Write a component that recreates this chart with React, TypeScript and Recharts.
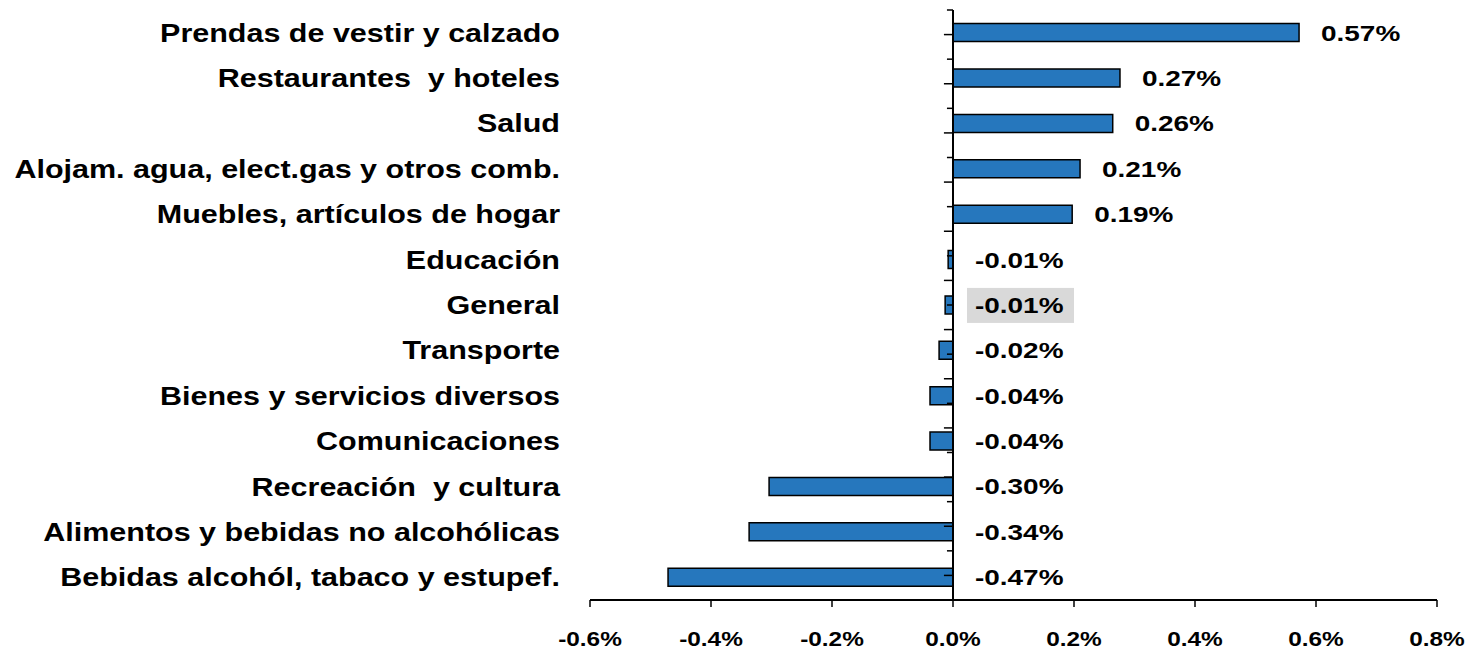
import React from 'react';
import { BarChart, Bar, XAxis, YAxis, ReferenceLine, LabelList } from 'recharts';

const categories = [
  'Prendas de vestir y calzado',
  'Restaurantes  y hoteles',
  'Salud',
  'Alojam. agua, elect.gas y otros comb.',
  'Muebles, artículos de hogar',
  'Educación',
  'General',
  'Transporte',
  'Bienes y servicios diversos',
  'Comunicaciones',
  'Recreación  y cultura',
  'Alimentos y bebidas no alcohólicas',
  'Bebidas alcohól, tabaco y estupef.',
];
const values = [0.572, 0.276, 0.264, 0.21, 0.197, -0.008, -0.013, -0.023, -0.038, -0.038, -0.304, -0.337, -0.471];
const valueLabels = ['0.57%', '0.27%', '0.26%', '0.21%', '0.19%', '-0.01%', '-0.01%', '-0.02%', '-0.04%', '-0.04%', '-0.30%', '-0.34%', '-0.47%'];
const xTicks = [-0.6, -0.4, -0.2, 0, 0.2, 0.4, 0.6, 0.8];
const highlighted = 'General';

const data = categories.map((name, i) => ({ name, value: values[i], label: valueLabels[i] }));
const boundaryPositions = Array.from({ length: categories.length + 1 }, (_, i) => i - 0.5);
const centerPositions = categories.map((_, i) => i);

const FONT = '"Liberation Sans", Arial, sans-serif';
const STRETCH = 1.22;

const CatTick = (props: any) => {
  const { x, y, payload } = props;
  return (
    <text
      transform={`translate(${x},${y + 9}) scale(${STRETCH},1)`}
      textAnchor="end"
      fontFamily={FONT}
      fontWeight="bold"
      fontSize={25}
      fill="#000"
      style={{ whiteSpace: 'pre' }}
    >
      {payload.value}
    </text>
  );
};

const XTick = (props: any) => {
  const { x, y, payload } = props;
  return (
    <text
      transform={`translate(${x},${y + 37}) scale(${STRETCH},1)`}
      textAnchor="middle"
      fontFamily={FONT}
      fontWeight="bold"
      fontSize={20}
      fill="#000"
    >
      {`${Number(payload.value).toFixed(1)}%`}
    </text>
  );
};

const ValueLabel = (props: any) => {
  const { x, y, width, height, index, value } = props;
  const right = Math.max(Number(x), Number(x) + Number(width));
  const lx = right + 22;
  const cy = Number(y) + Number(height) / 2;
  const isHi = categories[index] === highlighted;
  return (
    <g>
      {isHi && <rect x={lx - 8} y={cy - 17} width={107} height={35} fill="#d9d9d9" />}
      <text
        transform={`translate(${lx},${cy + 8}) scale(1.27,1)`}
        textAnchor="start"
        fontFamily={FONT}
        fontWeight="bold"
        fontSize={22}
        fill="#000"
      >
        {value}
      </text>
    </g>
  );
};

export default function App() {
  return (
    <BarChart
      width={1464}
      height={641}
      layout="vertical"
      data={data}
      margin={{ top: 2, right: 35, bottom: 0, left: 0 }}
      barCategoryGap="30%"
    >
      <XAxis
        type="number"
        domain={[-0.6, 0.8]}
        ticks={xTicks}
        axisLine={{ stroke: '#000', strokeWidth: 2 }}
        tickLine={{ stroke: '#000', strokeWidth: 1.5 }}
        tickSize={7}
        tickMargin={2}
        height={49}
        tick={<XTick />}
        interval={0}
      />
      <YAxis
        yAxisId="cat"
        type="category"
        dataKey="name"
        width={582}
        axisLine={false}
        tickLine={false}
        tickSize={0}
        tickMargin={30}
        tick={<CatTick />}
        interval={0}
      />
      <YAxis yAxisId="n" type="number" domain={[-0.5, 12.5]} reversed hide />
      <Bar
        yAxisId="cat"
        dataKey="value"
        fill="#2677BD"
        stroke="#000"
        strokeWidth={1.5}
        isAnimationActive={false}
      >
        <LabelList dataKey="label" content={<ValueLabel />} />
      </Bar>
      <ReferenceLine yAxisId="n" x={0} stroke="#000" strokeWidth={2} />
      {boundaryPositions.map((p) => (
        <ReferenceLine
          key={`b${p}`}
          yAxisId="n"
          segment={[{ x: -0.015, y: p }, { x: 0, y: p }]}
          stroke="#000"
          strokeWidth={1.5}
        />
      ))}
      {centerPositions.map((p) => (
        <ReferenceLine
          key={`c${p}`}
          yAxisId="n"
          segment={[{ x: -0.01, y: p }, { x: 0, y: p }]}
          stroke="#000"
          strokeWidth={1.5}
        />
      ))}
    </BarChart>
  );
}
